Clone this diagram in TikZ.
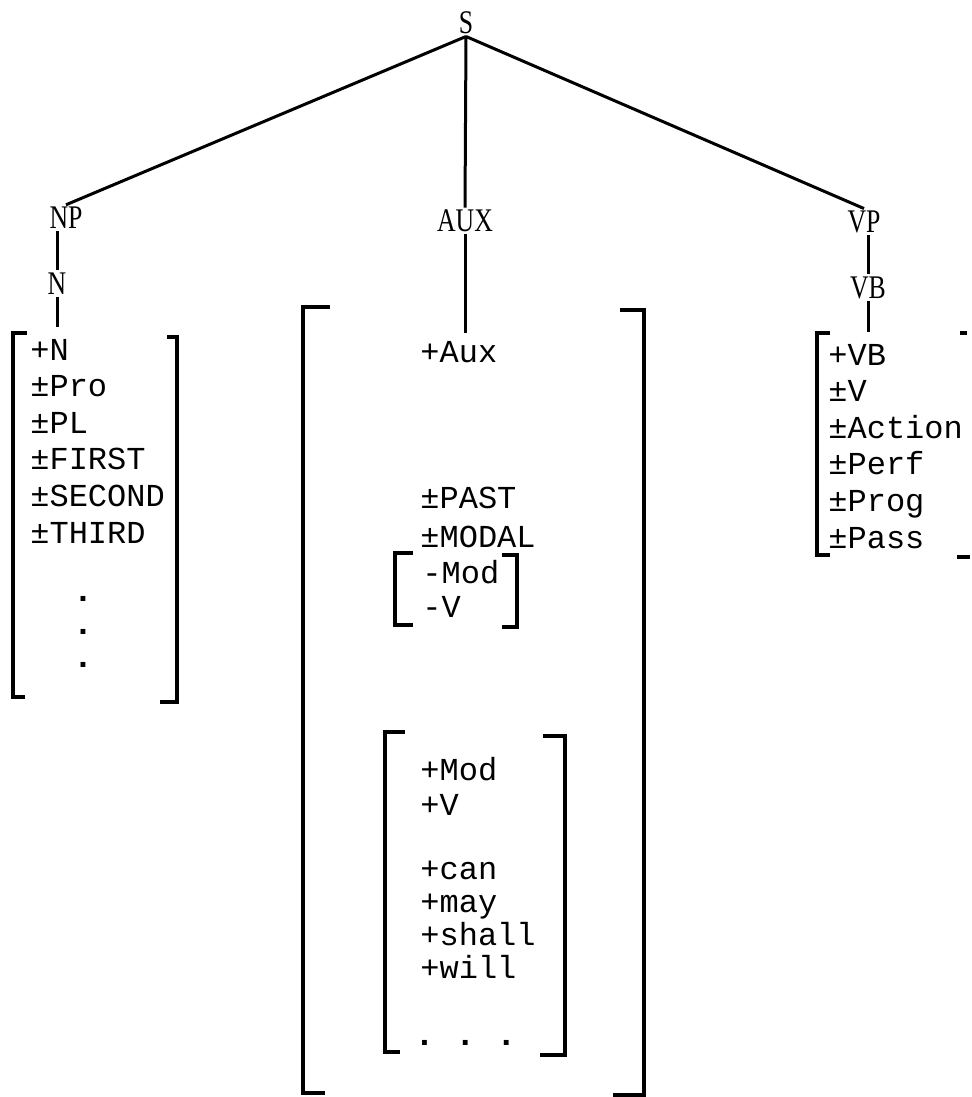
\documentclass[tikz,border=0pt]{standalone}
\usepackage{fontspec}
\setmonofont{Liberation Mono}
\newfontfamily\treefont[FakeStretch=0.78]{Liberation Serif}
\usetikzlibrary{positioning}

\tikzset{
  cat/.style={font=\treefont\fontsize{16.5}{18}\selectfont, inner sep=1pt},
  feat/.style={font=\ttfamily\fontsize{16}{18.3}\selectfont, align=left, anchor=base west, inner sep=0pt},
  branch/.style={line width=1.5pt},
  brk/.style={line width=1.6pt}
}

\begin{document}
\begin{tikzpicture}[x=0.5pt, y=-0.5pt]
\useasboundingbox (0,0) rectangle (972,1097);

% categories
\node[cat] (s) at (466,23) {S};
\node[cat] (np) at (66,218) {NP};
\node[cat] (aux) at (465,221) {AUX};
\node[cat] (vp) at (864,222) {VP};
\node[cat, below=19.5pt of np, xshift=-4.5pt] (n) {N};
\node[cat, below=19.5pt of vp, xshift=2pt] (vb) {VB};

% feature lists (anchored at the baseline of their last line)
\node[feat] (npf) at (30,543) {+N\\±Pro\\±PL\\±FIRST\\±SECOND\\±THIRD};
\node[feat, font=\ttfamily\bfseries\fontsize{17}{16.5}\selectfont, align=center, anchor=base] (npdots) at (83,667) {.\\.\\.};
\node[feat] (auxf) at (420,362) {+Aux};
\node[feat, font=\ttfamily\fontsize{16}{19.5}\selectfont] (tense) at (420,547) {±PAST\\±MODAL};
\node[feat, font=\ttfamily\fontsize{16}{17}\selectfont] (nomod) at (422,617) {-Mod\\-V};
\node[feat, font=\ttfamily\fontsize{16}{17.5}\selectfont] (mod) at (420,815) {+Mod\\+V};
\node[feat, font=\ttfamily\fontsize{16}{16.5}\selectfont] (modals) at (420,978) {+can\\+may\\+shall\\+will};
\node[feat, font=\ttfamily\bfseries\fontsize{17}{18}\selectfont] (moddots) at (414,1045) {.~.~.};
\node[feat] (vpf) at (828,548) {+VB\\±V\\±Action\\±Perf\\±Prog\\±Pass};

% branches
\draw[branch] (s.south) -- (np.north);
\draw[branch] (s.south) -- (aux.north);
\draw[branch] (s.south) -- (vp.north);
\draw[branch] (np.south -| n) -- (n.north);
\draw[branch] (n.south) -- ([yshift=6pt]n.south |- npf.north);
\draw[branch] (aux.south) -- ([yshift=4pt]aux.south |- auxf.north);
\draw[branch] (vp.south -| vb) -- (vb.north);
\draw[branch] (vb.south) -- ([yshift=6pt]vb.south |- vpf.north);

% brackets
\draw[brk] (27,333) -- (13,333) -- (13,697) -- (25,697);
\draw[brk] (167,337) -- (177,337) -- (177,702) -- (160,702);
\draw[brk] (330,307) -- (303,307) -- (303,1093) -- (325,1093);
\draw[brk] (620,310) -- (644,310) -- (644,1095) -- (613,1095);
\draw[brk] (413,553) -- (395,553) -- (395,625) -- (413,625);
\draw[brk] (502,555) -- (517,555) -- (517,627) -- (502,627);
\draw[brk] (405,732) -- (385,732) -- (385,1052) -- (400,1052);
\draw[brk] (543,736) -- (565,736) -- (565,1055) -- (540,1055);
\draw[brk] (830,333) -- (817,333) -- (817,555) -- (830,555);
\draw[brk] (960,333) -- (967,333);
\draw[brk] (957,557) -- (970,557);

\end{tikzpicture}
\end{document}
